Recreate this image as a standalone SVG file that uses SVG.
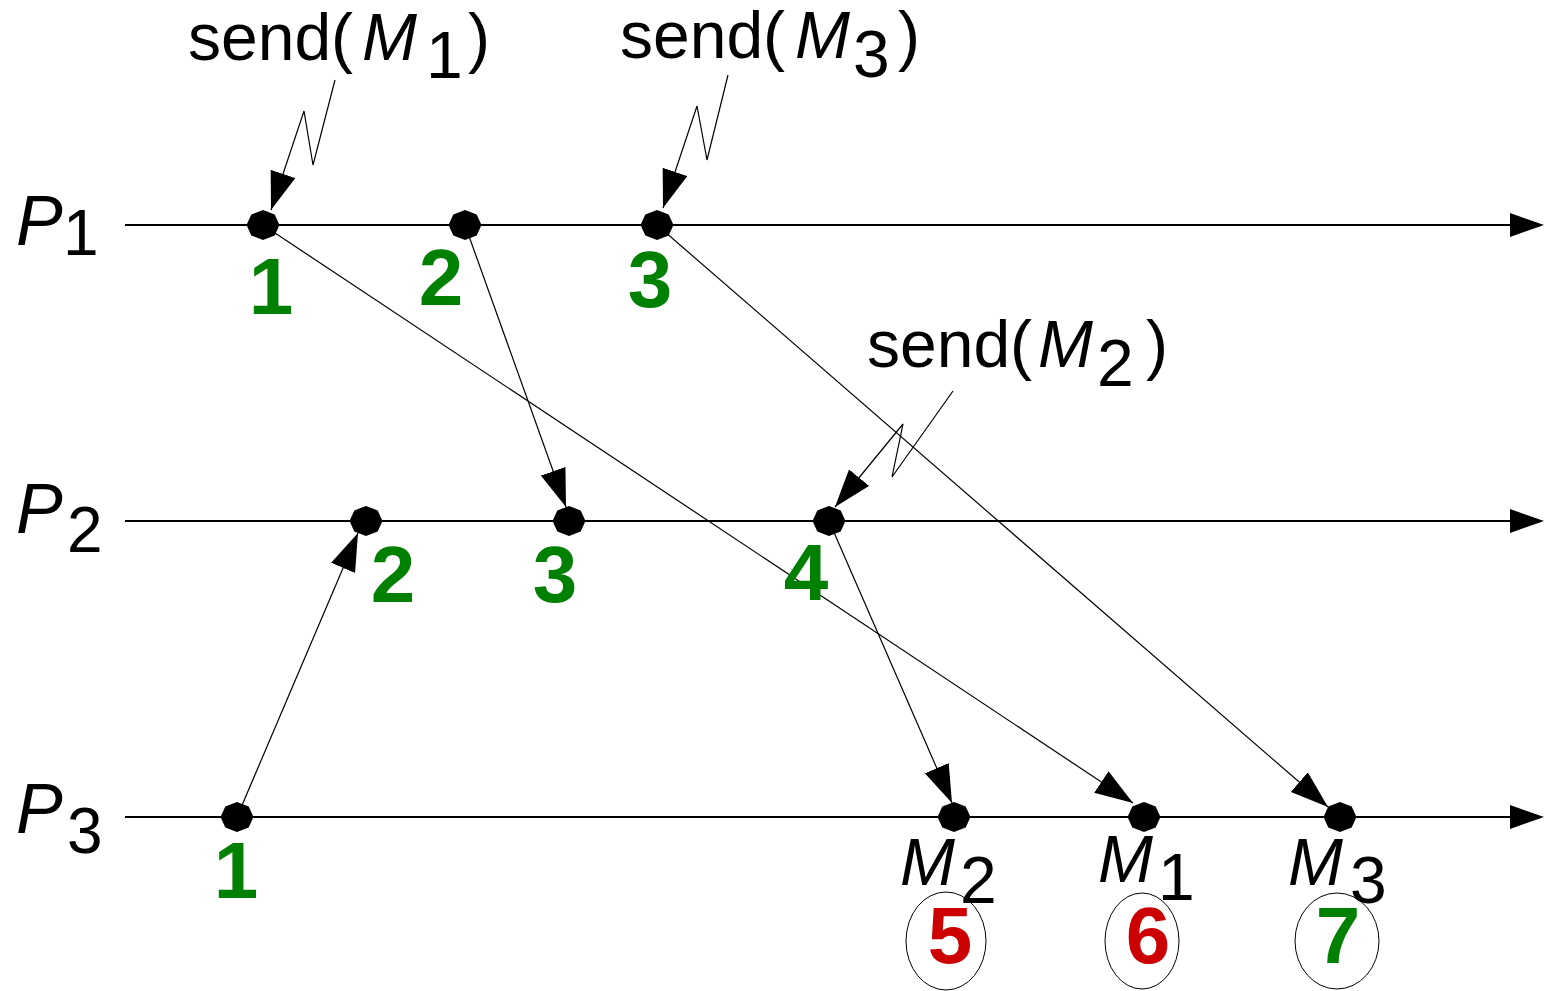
<svg xmlns="http://www.w3.org/2000/svg" xmlns:xlink="http://www.w3.org/1999/xlink" width="1544" height="991" viewBox="0 0 1544 991">
  <style>
    .axis { stroke: #000; stroke-width: 2; fill: none; }
    .msg { stroke: #000; stroke-width: 1.2; fill: none; marker-end: url(#head); }
    .lbl { font-family: "Liberation Sans", Arial, sans-serif; font-size: 66px; fill: #000; }
    .it { font-style: italic; }
    .proc { font-family: "Liberation Sans", Arial, sans-serif; font-size: 70px; fill: #000; }
    .sub { font-size: 64px; font-style: normal; }
    .clk { font-family: "Liberation Sans", Arial, sans-serif; font-size: 80px; font-weight: bold; fill: #008000; text-anchor: middle; }
    .late { fill: #cc0000; }
    .ring { fill: none; stroke: #000; stroke-width: 1; }
  </style>
  <defs>
    <marker id="head" markerUnits="userSpaceOnUse" viewBox="0 0 38 26" refX="38" refY="13" markerWidth="38" markerHeight="26" orient="auto">
      <path d="M0,0 L38,13 L0,26 Z" fill="#000"/>
    </marker>
    <polygon id="ev" points="16.5,0 11.7,10.6 0,15 -11.7,10.6 -16.5,0 -11.7,-10.6 0,-15 11.7,-10.6" fill="#000"/>
  </defs>
  <rect width="1544" height="991" fill="#fff"/>

  <!-- process time lines -->
  <g id="P1">
    <line class="axis" x1="125" y1="225" x2="1512" y2="225"/>
    <polygon points="1510,213 1544,225 1510,237" fill="#000"/>
    <text class="proc"><tspan class="it" x="16" y="245">P</tspan><tspan class="sub" x="63" y="255">1</tspan></text>
  </g>
  <g id="P2">
    <line class="axis" x1="125" y1="521" x2="1512" y2="521"/>
    <polygon points="1510,509 1544,521 1510,533" fill="#000"/>
    <text class="proc"><tspan class="it" x="16" y="533">P</tspan><tspan class="sub" x="67" y="552">2</tspan></text>
  </g>
  <g id="P3">
    <line class="axis" x1="125" y1="817" x2="1512" y2="817"/>
    <polygon points="1510,805 1544,817 1510,829" fill="#000"/>
    <text class="proc"><tspan class="it" x="16" y="833">P</tspan><tspan class="sub" x="67" y="853">3</tspan></text>
  </g>

  <!-- messages and send events -->
  <g id="connectors">
    <line class="msg" x1="263" y1="225" x2="1133" y2="803"/>
    <line class="msg" x1="465" y1="225" x2="566" y2="507"/>
    <line class="msg" x1="657" y1="225" x2="1328" y2="807"/>
    <line class="msg" x1="237" y1="817" x2="358" y2="533"/>
    <line class="msg" x1="829" y1="521" x2="952" y2="803"/>
    <polyline class="msg" points="335,80 313,165 304,111 271,210"/>
    <polyline class="msg" points="728,75 707,160 697,106 663,208"/>
    <polyline class="msg" points="953,391 892,477 903,424 835,507"/>
  </g>

  <!-- events on P1 -->
  <g id="e11"><use xlink:href="#ev" x="263" y="225"/><text class="clk" x="271" y="314">1</text></g>
  <g id="e12"><use xlink:href="#ev" x="465" y="225"/><text class="clk" x="441" y="305">2</text></g>
  <g id="e13"><use xlink:href="#ev" x="657" y="225"/><text class="clk" x="650" y="307">3</text></g>

  <!-- events on P2 -->
  <g id="e21"><use xlink:href="#ev" x="366" y="521"/><text class="clk" x="393" y="602">2</text></g>
  <g id="e22"><use xlink:href="#ev" x="569" y="521"/><text class="clk" x="555" y="602">3</text></g>
  <g id="e23"><use xlink:href="#ev" x="829" y="521"/><text class="clk" x="806" y="600">4</text></g>

  <!-- events on P3 -->
  <g id="e31"><use xlink:href="#ev" x="237" y="817"/><text class="clk" x="236" y="898">1</text></g>
  <g id="e32">
    <use xlink:href="#ev" x="954" y="817"/>
    <text class="lbl"><tspan class="it" x="900" y="885">M</tspan><tspan x="960" y="903">2</tspan></text>
    <ellipse class="ring" cx="946" cy="941" rx="40" ry="49"/>
    <text class="clk late" x="950" y="963">5</text>
  </g>
  <g id="e33">
    <use xlink:href="#ev" x="1144" y="817"/>
    <text class="lbl"><tspan class="it" x="1098" y="882">M</tspan><tspan x="1158" y="900">1</tspan></text>
    <ellipse class="ring" cx="1142" cy="941" rx="37" ry="48"/>
    <text class="clk late" x="1148" y="963">6</text>
  </g>
  <g id="e34">
    <use xlink:href="#ev" x="1340" y="817"/>
    <text class="lbl"><tspan class="it" x="1288" y="885">M</tspan><tspan x="1350" y="903">3</tspan></text>
    <ellipse class="ring" cx="1337" cy="941" rx="42" ry="48"/>
    <text class="clk" x="1338" y="963">7</text>
  </g>

  <!-- send labels -->
  <g id="sendM1">
    <text class="lbl"><tspan x="188" y="60">send(</tspan><tspan class="it" x="362" y="60">M</tspan><tspan x="426" y="78">1</tspan><tspan x="468" y="60">)</tspan></text>
  </g>
  <g id="sendM3">
    <text class="lbl"><tspan x="620" y="58">send(</tspan><tspan class="it" x="795" y="58">M</tspan><tspan x="853" y="77">3</tspan><tspan x="898" y="58">)</tspan></text>
  </g>
  <g id="sendM2">
    <text class="lbl"><tspan x="867" y="367">send(</tspan><tspan class="it" x="1038" y="367">M</tspan><tspan x="1097" y="386">2</tspan><tspan x="1146" y="367">)</tspan></text>
  </g>
</svg>
